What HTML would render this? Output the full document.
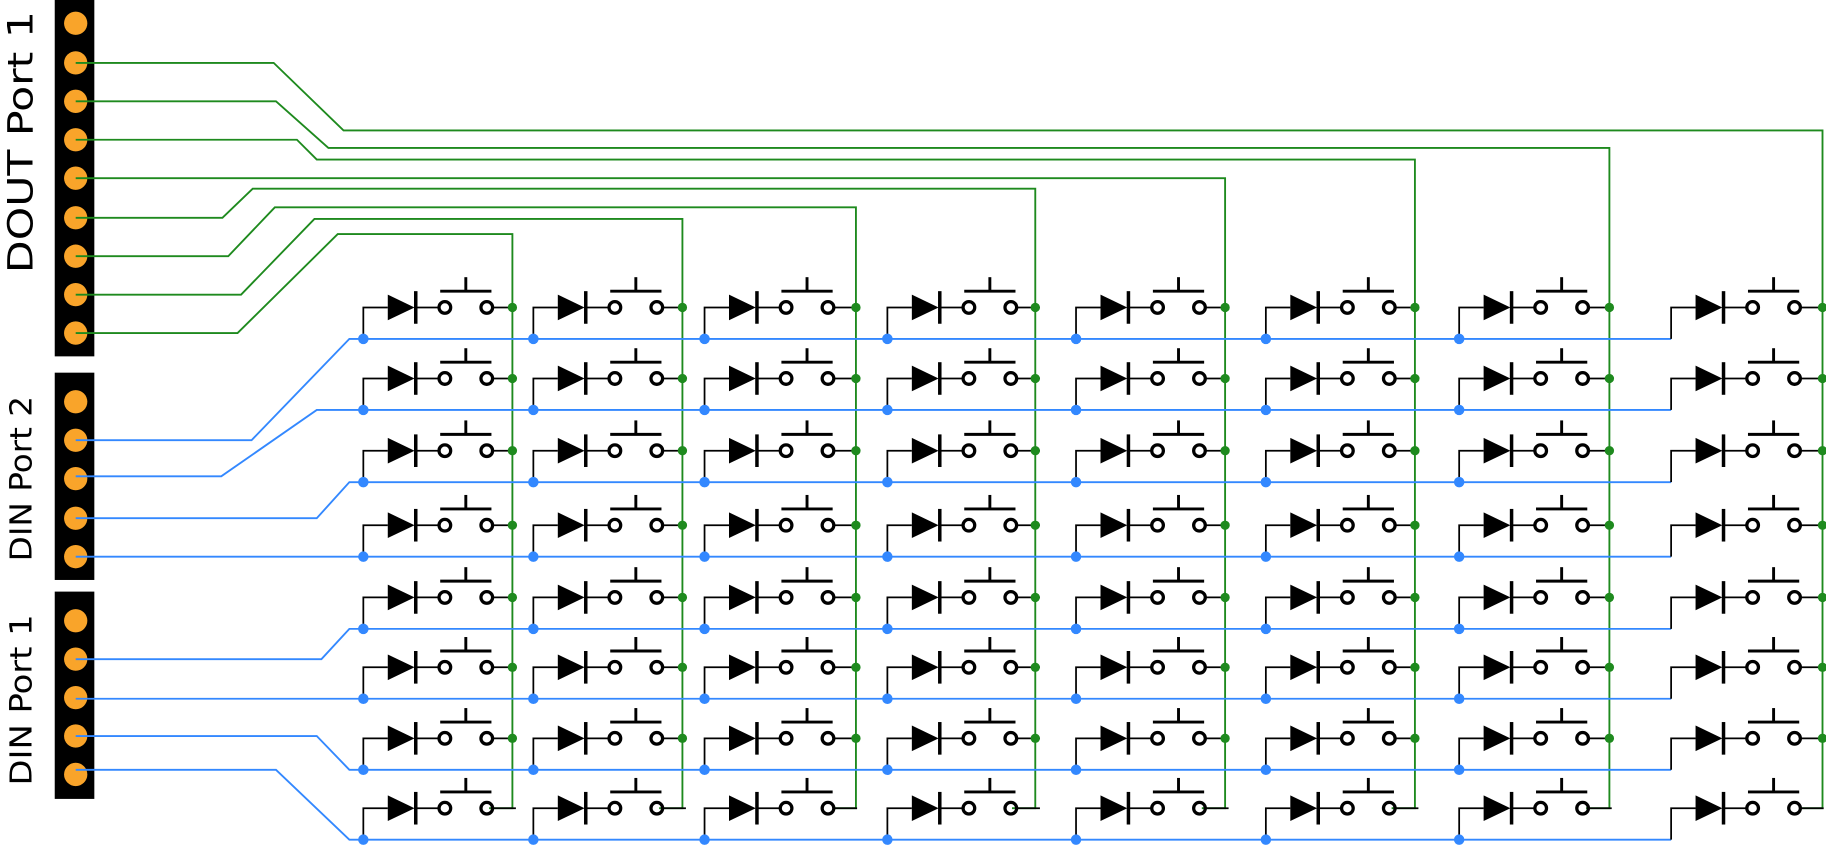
<!DOCTYPE html>
<html><head><meta charset="utf-8"><style>html,body{margin:0;padding:0;background:#fff}svg{display:block}</style></head>
<body>
<svg width="1826" height="847" viewBox="0 0 1568 727.3" preserveAspectRatio="none" xmlns="http://www.w3.org/2000/svg">
<defs>
<g id="c">
<path d="M0,27 V0 H21" fill="none" stroke="#000" stroke-width="1.5"/>
<polygon points="21,-11 21,11 44,0" fill="#000"/>
<line x1="45" y1="-14" x2="45" y2="14" stroke="#000" stroke-width="3"/>
<line x1="45" y1="0" x2="65" y2="0" stroke="#000" stroke-width="1.5"/>
<circle cx="70" cy="0" r="5" fill="none" stroke="#000" stroke-width="2.8"/>
<circle cx="106" cy="0" r="5" fill="none" stroke="#000" stroke-width="2.8"/>
<line x1="111" y1="0" x2="131" y2="0" stroke="#000" stroke-width="1.5"/>
<line x1="66" y1="-14" x2="110" y2="-14" stroke="#000" stroke-width="2.5"/>
<line x1="88" y1="-26" x2="88" y2="-14" stroke="#000" stroke-width="2.5"/>
</g>
</defs>

<rect x="47" y="0" width="34" height="306" fill="#000"/>
<rect x="47" y="320" width="34" height="178" fill="#000"/>
<rect x="47" y="508" width="34" height="178" fill="#000"/>
<g fill="#F9A42A">
<circle cx="65" cy="20" r="10"/><circle cx="65" cy="54" r="10"/><circle cx="65" cy="87" r="10"/><circle cx="65" cy="120" r="10"/><circle cx="65" cy="153" r="10"/><circle cx="65" cy="187" r="10"/><circle cx="65" cy="220" r="10"/><circle cx="65" cy="253" r="10"/><circle cx="65" cy="286" r="10"/>
<circle cx="65" cy="345" r="10"/><circle cx="65" cy="378" r="10"/><circle cx="65" cy="411" r="10"/><circle cx="65" cy="445" r="10"/><circle cx="65" cy="478" r="10"/>
<circle cx="65" cy="533" r="10"/><circle cx="65" cy="566" r="10"/><circle cx="65" cy="599" r="10"/><circle cx="65" cy="632" r="10"/><circle cx="65" cy="665" r="10"/>
</g>
<g font-family="'DejaVu Sans','Liberation Sans',sans-serif" font-size="26" fill="#000" text-anchor="middle">
<text transform="translate(28,122) rotate(-90)" font-size="30" textLength="225" lengthAdjust="spacingAndGlyphs">DOUT Port 1</text>
<text transform="translate(27,411) rotate(-90)" textLength="142" lengthAdjust="spacingAndGlyphs">DIN Port 2</text>
<text transform="translate(27,601) rotate(-90)" textLength="147" lengthAdjust="spacingAndGlyphs">DIN Port 1</text>
</g>

<g fill="none" stroke="#1E8A1E" stroke-width="1.6">
<path d="M65,54 H235 L295,112 H1565 V694 H1545"/>
<path d="M65,87 H237 L282,127 H1382 V694 H1362"/>
<path d="M65,120 H255 L272,137 H1215 V694 H1195"/>
<path d="M65,153 H1052 V694 H1032"/>
<path d="M65,187 H191 L217,162 H889 V694 H869"/>
<path d="M65,220 H196 L236,178 H735 V694 H715"/>
<path d="M65,253 H207 L270,188 H586 V694 H566"/>
<path d="M65,286 H204 L290,201 H440 V694 H420"/>
</g>

<g fill="none" stroke="#3388FF" stroke-width="1.6">
<path d="M65,378 H216 L300,291 H1435"/>
<path d="M65,409 H190 L272,352 H1435"/>
<path d="M65,445 H272 L300,414 H1435"/>
<path d="M65,478 H1435"/>
<path d="M65,566 H276 L300,540 H1435"/>
<path d="M65,600 H1435"/>
<path d="M65,632 H272 L300,661 H1435"/>
<path d="M65,661 H237 L300,721 H1435"/>
</g>

<g>
<use href="#c" x="312" y="264"/><use href="#c" x="458" y="264"/><use href="#c" x="605" y="264"/><use href="#c" x="762" y="264"/><use href="#c" x="924" y="264"/><use href="#c" x="1087" y="264"/><use href="#c" x="1253" y="264"/><use href="#c" x="1435" y="264"/>
<use href="#c" x="312" y="325"/><use href="#c" x="458" y="325"/><use href="#c" x="605" y="325"/><use href="#c" x="762" y="325"/><use href="#c" x="924" y="325"/><use href="#c" x="1087" y="325"/><use href="#c" x="1253" y="325"/><use href="#c" x="1435" y="325"/>
<use href="#c" x="312" y="387"/><use href="#c" x="458" y="387"/><use href="#c" x="605" y="387"/><use href="#c" x="762" y="387"/><use href="#c" x="924" y="387"/><use href="#c" x="1087" y="387"/><use href="#c" x="1253" y="387"/><use href="#c" x="1435" y="387"/>
<use href="#c" x="312" y="451"/><use href="#c" x="458" y="451"/><use href="#c" x="605" y="451"/><use href="#c" x="762" y="451"/><use href="#c" x="924" y="451"/><use href="#c" x="1087" y="451"/><use href="#c" x="1253" y="451"/><use href="#c" x="1435" y="451"/>
<use href="#c" x="312" y="513"/><use href="#c" x="458" y="513"/><use href="#c" x="605" y="513"/><use href="#c" x="762" y="513"/><use href="#c" x="924" y="513"/><use href="#c" x="1087" y="513"/><use href="#c" x="1253" y="513"/><use href="#c" x="1435" y="513"/>
<use href="#c" x="312" y="573"/><use href="#c" x="458" y="573"/><use href="#c" x="605" y="573"/><use href="#c" x="762" y="573"/><use href="#c" x="924" y="573"/><use href="#c" x="1087" y="573"/><use href="#c" x="1253" y="573"/><use href="#c" x="1435" y="573"/>
<use href="#c" x="312" y="634"/><use href="#c" x="458" y="634"/><use href="#c" x="605" y="634"/><use href="#c" x="762" y="634"/><use href="#c" x="924" y="634"/><use href="#c" x="1087" y="634"/><use href="#c" x="1253" y="634"/><use href="#c" x="1435" y="634"/>
<use href="#c" x="312" y="694"/><use href="#c" x="458" y="694"/><use href="#c" x="605" y="694"/><use href="#c" x="762" y="694"/><use href="#c" x="924" y="694"/><use href="#c" x="1087" y="694"/><use href="#c" x="1253" y="694"/><use href="#c" x="1435" y="694"/>
</g>

<g fill="#3388FF">
<circle cx="312" cy="291" r="4.5"/><circle cx="458" cy="291" r="4.5"/><circle cx="605" cy="291" r="4.5"/><circle cx="762" cy="291" r="4.5"/><circle cx="924" cy="291" r="4.5"/><circle cx="1087" cy="291" r="4.5"/><circle cx="1253" cy="291" r="4.5"/>
<circle cx="312" cy="352" r="4.5"/><circle cx="458" cy="352" r="4.5"/><circle cx="605" cy="352" r="4.5"/><circle cx="762" cy="352" r="4.5"/><circle cx="924" cy="352" r="4.5"/><circle cx="1087" cy="352" r="4.5"/><circle cx="1253" cy="352" r="4.5"/>
<circle cx="312" cy="414" r="4.5"/><circle cx="458" cy="414" r="4.5"/><circle cx="605" cy="414" r="4.5"/><circle cx="762" cy="414" r="4.5"/><circle cx="924" cy="414" r="4.5"/><circle cx="1087" cy="414" r="4.5"/><circle cx="1253" cy="414" r="4.5"/>
<circle cx="312" cy="478" r="4.5"/><circle cx="458" cy="478" r="4.5"/><circle cx="605" cy="478" r="4.5"/><circle cx="762" cy="478" r="4.5"/><circle cx="924" cy="478" r="4.5"/><circle cx="1087" cy="478" r="4.5"/><circle cx="1253" cy="478" r="4.5"/>
<circle cx="312" cy="540" r="4.5"/><circle cx="458" cy="540" r="4.5"/><circle cx="605" cy="540" r="4.5"/><circle cx="762" cy="540" r="4.5"/><circle cx="924" cy="540" r="4.5"/><circle cx="1087" cy="540" r="4.5"/><circle cx="1253" cy="540" r="4.5"/>
<circle cx="312" cy="600" r="4.5"/><circle cx="458" cy="600" r="4.5"/><circle cx="605" cy="600" r="4.5"/><circle cx="762" cy="600" r="4.5"/><circle cx="924" cy="600" r="4.5"/><circle cx="1087" cy="600" r="4.5"/><circle cx="1253" cy="600" r="4.5"/>
<circle cx="312" cy="661" r="4.5"/><circle cx="458" cy="661" r="4.5"/><circle cx="605" cy="661" r="4.5"/><circle cx="762" cy="661" r="4.5"/><circle cx="924" cy="661" r="4.5"/><circle cx="1087" cy="661" r="4.5"/><circle cx="1253" cy="661" r="4.5"/>
<circle cx="312" cy="721" r="4.5"/><circle cx="458" cy="721" r="4.5"/><circle cx="605" cy="721" r="4.5"/><circle cx="762" cy="721" r="4.5"/><circle cx="924" cy="721" r="4.5"/><circle cx="1087" cy="721" r="4.5"/><circle cx="1253" cy="721" r="4.5"/>
</g>

<g fill="#1E8A1E">
<circle cx="440" cy="264" r="4"/><circle cx="586" cy="264" r="4"/><circle cx="735" cy="264" r="4"/><circle cx="889" cy="264" r="4"/><circle cx="1052" cy="264" r="4"/><circle cx="1215" cy="264" r="4"/><circle cx="1382" cy="264" r="4"/><circle cx="1565" cy="264" r="4"/>
<circle cx="440" cy="325" r="4"/><circle cx="586" cy="325" r="4"/><circle cx="735" cy="325" r="4"/><circle cx="889" cy="325" r="4"/><circle cx="1052" cy="325" r="4"/><circle cx="1215" cy="325" r="4"/><circle cx="1382" cy="325" r="4"/><circle cx="1565" cy="325" r="4"/>
<circle cx="440" cy="387" r="4"/><circle cx="586" cy="387" r="4"/><circle cx="735" cy="387" r="4"/><circle cx="889" cy="387" r="4"/><circle cx="1052" cy="387" r="4"/><circle cx="1215" cy="387" r="4"/><circle cx="1382" cy="387" r="4"/><circle cx="1565" cy="387" r="4"/>
<circle cx="440" cy="451" r="4"/><circle cx="586" cy="451" r="4"/><circle cx="735" cy="451" r="4"/><circle cx="889" cy="451" r="4"/><circle cx="1052" cy="451" r="4"/><circle cx="1215" cy="451" r="4"/><circle cx="1382" cy="451" r="4"/><circle cx="1565" cy="451" r="4"/>
<circle cx="440" cy="513" r="4"/><circle cx="586" cy="513" r="4"/><circle cx="735" cy="513" r="4"/><circle cx="889" cy="513" r="4"/><circle cx="1052" cy="513" r="4"/><circle cx="1215" cy="513" r="4"/><circle cx="1382" cy="513" r="4"/><circle cx="1565" cy="513" r="4"/>
<circle cx="440" cy="573" r="4"/><circle cx="586" cy="573" r="4"/><circle cx="735" cy="573" r="4"/><circle cx="889" cy="573" r="4"/><circle cx="1052" cy="573" r="4"/><circle cx="1215" cy="573" r="4"/><circle cx="1382" cy="573" r="4"/><circle cx="1565" cy="573" r="4"/>
<circle cx="440" cy="634" r="4"/><circle cx="586" cy="634" r="4"/><circle cx="735" cy="634" r="4"/><circle cx="889" cy="634" r="4"/><circle cx="1052" cy="634" r="4"/><circle cx="1215" cy="634" r="4"/><circle cx="1382" cy="634" r="4"/><circle cx="1565" cy="634" r="4"/>
</g>
</svg>
</body></html>
